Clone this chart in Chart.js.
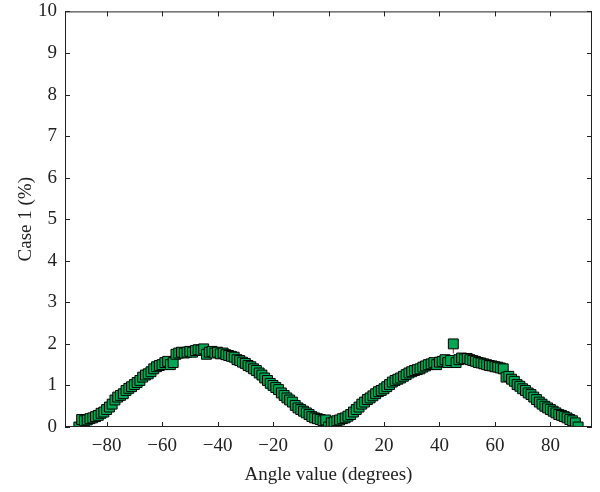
<!DOCTYPE html>
<html>
<head>
<meta charset="utf-8">
<script src="https://cdn.jsdelivr.net/npm/chart.js@4"></script>
<style>
  html, body { margin: 0; padding: 0; background: #fff; }
  #wrap { width: 600px; height: 492px; }
</style>
</head>
<body>
<div id="wrap"><canvas id="graphe"></canvas></div>
<script>
// Angles (degrees), -90 .. 90
const angles = [
  -90, -89, -88, -87, -86, -85, -84, -83, -82, -81,
  -80, -79, -78, -77, -76, -75, -74, -73, -72, -71,
  -70, -69, -68, -67, -66, -65, -64, -63, -62, -61,
  -60, -59, -58, -57, -56, -55, -54, -53, -52, -51,
  -50, -49, -48, -47, -46, -45, -44, -43, -42, -41,
  -40, -39, -38, -37, -36, -35, -34, -33, -32, -31,
  -30, -29, -28, -27, -26, -25, -24, -23, -22, -21,
  -20, -19, -18, -17, -16, -15, -14, -13, -12, -11,
  -10, -9, -8, -7, -6, -5, -4, -3, -2, -1,
  0, 1, 2, 3, 4, 5, 6, 7, 8, 9,
  10, 11, 12, 13, 14, 15, 16, 17, 18, 19,
  20, 21, 22, 23, 24, 25, 26, 27, 28, 29,
  30, 31, 32, 33, 34, 35, 36, 37, 38, 39,
  40, 41, 42, 43, 44, 45, 46, 47, 48, 49,
  50, 51, 52, 53, 54, 55, 56, 57, 58, 59,
  60, 61, 62, 63, 64, 65, 66, 67, 68, 69,
  70, 71, 72, 73, 74, 75, 76, 77, 78, 79,
  80, 81, 82, 83, 84, 85, 86, 87, 88, 89,
  90
];

// Case 1 (%)
const case1 = [
  0.00, 0.18, 0.15, 0.17, 0.20, 0.22, 0.25, 0.28, 0.33, 0.36,
  0.42, 0.48, 0.55, 0.65, 0.72, 0.76, 0.80, 0.88, 0.93, 0.97,
  1.02, 1.07, 1.12, 1.20, 1.25, 1.28, 1.33, 1.40, 1.45, 1.48,
  1.50, 1.55, 1.58, 1.50, 1.55, 1.75, 1.78, 1.80, 1.78, 1.80,
  1.82, 1.80, 1.84, 1.86, 1.85, 1.88, 1.75, 1.80, 1.82, 1.78,
  1.80, 1.76, 1.78, 1.74, 1.72, 1.70, 1.68, 1.62, 1.60, 1.56,
  1.53, 1.48, 1.45, 1.40, 1.36, 1.30, 1.25, 1.18, 1.12, 1.05,
  1.00, 0.95, 0.90, 0.82, 0.76, 0.70, 0.65, 0.60, 0.52, 0.46,
  0.42, 0.38, 0.34, 0.30, 0.25, 0.22, 0.20, 0.18, 0.15, 0.17,
  0.00, 0.10, 0.12, 0.15, 0.17, 0.20, 0.22, 0.26, 0.30, 0.36,
  0.42, 0.48, 0.55, 0.60, 0.66, 0.70, 0.75, 0.80, 0.85, 0.88,
  0.92, 0.97, 1.02, 1.08, 1.12, 1.15, 1.18, 1.22, 1.26, 1.30,
  1.33, 1.36, 1.38, 1.40, 1.44, 1.47, 1.50, 1.52, 1.55, 1.50,
  1.56, 1.58, 1.62, 1.55, 1.60, 2.00, 1.55, 1.62, 1.66, 1.64,
  1.65, 1.62, 1.60, 1.58, 1.55, 1.54, 1.52, 1.50, 1.48, 1.47,
  1.45, 1.44, 1.42, 1.40, 1.20, 1.22, 1.15, 1.10, 1.02, 0.98,
  0.92, 0.88, 0.82, 0.78, 0.72, 0.66, 0.60, 0.55, 0.50, 0.46,
  0.42, 0.38, 0.34, 0.30, 0.28, 0.25, 0.22, 0.18, 0.15, 0.10,
  0.00
];

// small red error bar on the outlier point
const barreErreur = { x: 45, bas: 1.77, haut: 2.0 };

const xTicks = [-80, -60, -40, -20, 0, 20, 40, 60, 80];
const yTicks = [0, 1, 2, 3, 4, 5, 6, 7, 8, 9, 10];

const police = "'Liberation Serif', 'DejaVu Serif', serif";

const points = angles.map((a, i) => ({ x: a, y: case1[i] }));

// cadre + graduations vers l'intérieur
const cadre = {
  id: 'cadre',
  beforeDatasetsDraw(chart) {
    const { ctx, scales } = chart;
    const x = scales.x.getPixelForValue(barreErreur.x);
    ctx.save();
    ctx.strokeStyle = '#ff0000';
    ctx.lineWidth = 1;
    ctx.beginPath();
    ctx.moveTo(x, scales.y.getPixelForValue(barreErreur.bas));
    ctx.lineTo(x, scales.y.getPixelForValue(barreErreur.haut));
    ctx.stroke();
    ctx.restore();
  },
  afterDraw(chart) {
    const { ctx, chartArea: a, scales } = chart;
    const len = 5;
    ctx.save();
    ctx.strokeStyle = '#222';
    ctx.lineWidth = 1;
    ctx.strokeRect(a.left + 0.5, a.top + 0.5, a.right - a.left - 1, a.bottom - a.top - 1);
    ctx.beginPath();
    xTicks.forEach(t => {
      const px = Math.round(scales.x.getPixelForValue(t)) + 0.5;
      ctx.moveTo(px, a.bottom); ctx.lineTo(px, a.bottom - len);
      ctx.moveTo(px, a.top); ctx.lineTo(px, a.top + len);
    });
    yTicks.forEach(t => {
      const py = Math.round(scales.y.getPixelForValue(t)) + 0.5;
      ctx.moveTo(a.left, py); ctx.lineTo(a.left + len, py);
      ctx.moveTo(a.right, py); ctx.lineTo(a.right - len, py);
    });
    ctx.stroke();
    ctx.restore();
  }
};

new Chart(document.getElementById('graphe'), {
  type: 'scatter',
  data: {
    datasets: [{
      label: 'Case 1',
      data: points,
      pointStyle: 'rect',
      pointRadius: 7,
      pointHoverRadius: 7,
      backgroundColor: '#00a651',
      borderColor: '#000',
      borderWidth: 1
    }]
  },
  options: {
    responsive: true,
    maintainAspectRatio: false,
    animation: false,
    events: [],
    layout: { padding: { top: 6, right: 0, left: 0, bottom: 0 } },
    plugins: { legend: { display: false }, tooltip: { enabled: false } },
    scales: {
      x: {
        type: 'linear',
        min: -95,
        max: 95,
        afterBuildTicks: s => { s.ticks = xTicks.map(v => ({ value: v })); },
        afterFit: s => { s.height = 65; },
        grid: { display: false },
        border: { display: false },
        ticks: {
          padding: 0,
          color: '#222',
          font: { family: police, size: 19 },
          callback: v => (v < 0 ? '\u2212' + Math.abs(v) : String(v))
        },
        title: {
          display: true,
          text: 'Angle value (degrees)',
          color: '#222',
          font: { family: police, size: 19 },
          padding: { top: 0, bottom: 6 }
        }
      },
      y: {
        min: 0,
        max: 10,
        afterBuildTicks: s => { s.ticks = yTicks.map(v => ({ value: v })); },
        afterFit: s => { s.width = 65; },
        grid: { display: false },
        border: { display: false },
        ticks: {
          padding: 0,
          color: '#222',
          font: { family: police, size: 19 }
        },
        title: {
          display: true,
          text: 'Case 1 (%)',
          color: '#222',
          font: { family: police, size: 19 },
          padding: { top: 15, bottom: 0 }
        }
      }
    }
  },
  plugins: [cadre]
});
</script>
</body>
</html>
